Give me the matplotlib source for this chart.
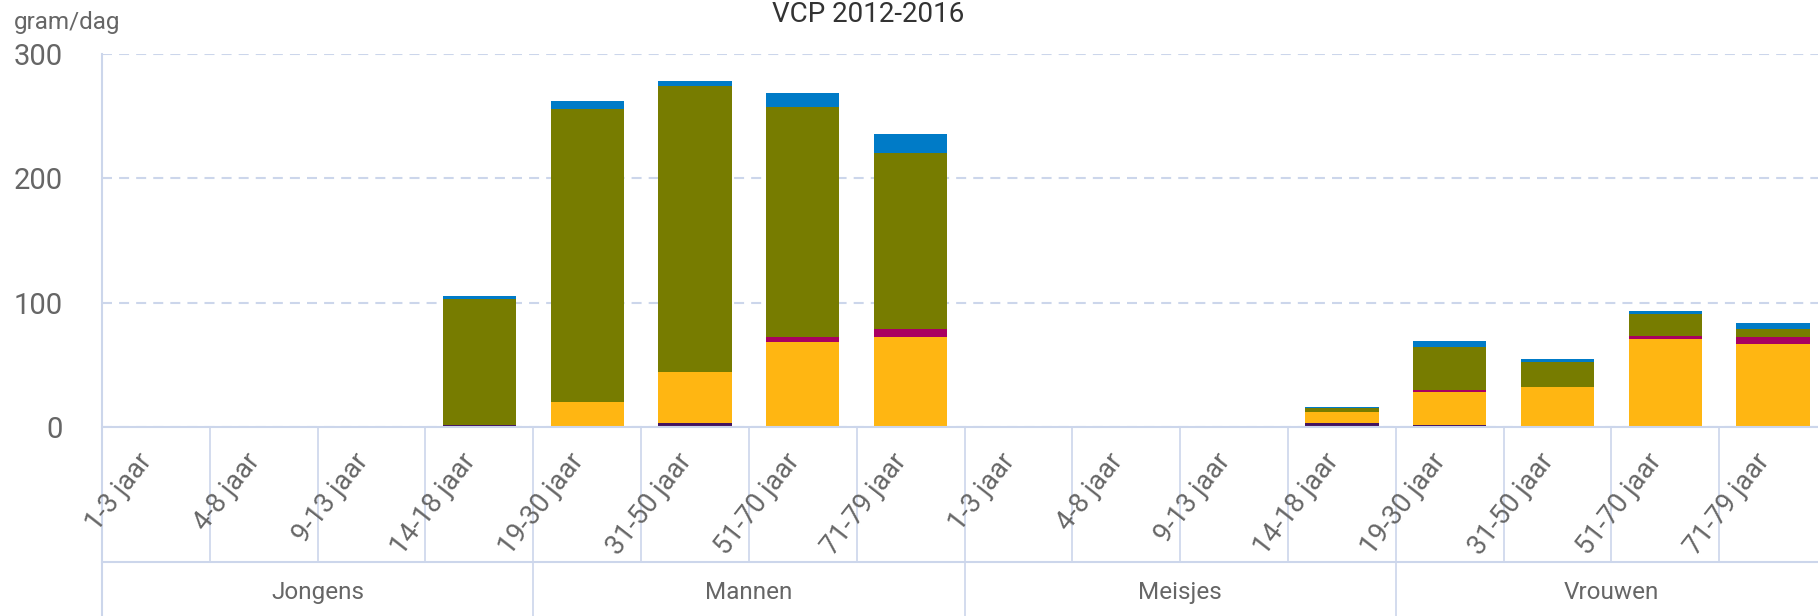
import numpy as np
import matplotlib
matplotlib.use("Agg")
import matplotlib.pyplot as plt
import matplotlib.transforms as mtransforms


# ----------------------------
# Data (gram/dag)
# ----------------------------
GROUPS = ["Jongens", "Mannen", "Meisjes", "Vrouwen"]
AGES = [
    ["1-3 jaar", "4-8 jaar", "9-13 jaar", "14-18 jaar"],
    ["19-30 jaar", "31-50 jaar", "51-70 jaar", "71-79 jaar"],
    ["1-3 jaar", "4-8 jaar", "9-13 jaar", "14-18 jaar"],
    ["19-30 jaar", "31-50 jaar", "51-70 jaar", "71-79 jaar"],
]

# stacked from bottom to top
purple = [0, 0, 0, 1.8, 0, 3.5, 0, 0, 0, 0, 0, 3.5, 1.6, 0, 0, 0]
yellow = [0, 0, 0, 0, 20, 40.5, 68.5, 72, 0, 0, 0, 8.2, 26.4, 31.8, 70.7, 66.6]
magenta = [0, 0, 0, 0, 0, 0, 4.2, 7.2, 0, 0, 0, 0, 1.9, 0, 2.1, 5.4]
olive = [0, 0, 0, 101.2, 236, 230, 185, 141.5, 0, 0, 0, 3.7, 34.5, 20.6, 17.7, 6.8]
blue = [0, 0, 0, 2.7, 6.2, 4.3, 10.6, 14.6, 0, 0, 0, 0.9, 4.4, 1.9, 2.4, 4.6]

SERIES = [purple, yellow, magenta, olive, blue]
COLORS = ["#42145f", "#ffb612", "#a90061", "#777c00", "#007bc7"]

LINE_COLOR = "#ccd6eb"
TEXT_COLOR = "#666666"

plt.rcParams["font.family"] = ["Roboto", "DejaVu Sans"]


# ----------------------------
# Figure
# ----------------------------
W, H = 1818, 616
fig = plt.figure(figsize=(W / 100, H / 100), dpi=100)
ax = fig.add_axes([102 / W, (H - 427) / H, (1827 - 102) / W, (427 - 54) / H])

n = sum(len(a) for a in AGES)
x = np.arange(n)
bottom = np.zeros(n)
for vals, col in zip(SERIES, COLORS):
    vals = np.array(vals, dtype=float)
    ax.bar(x, vals, bottom=bottom, width=0.68, color=col, linewidth=0, zorder=3)
    bottom += vals

ax.set_xlim(-0.5, n - 0.5)
ax.set_ylim(0, 300)
ax.set_yticks([0, 100, 200, 300])
ax.yaxis.grid(True, color=LINE_COLOR, linestyle=(0, (4.8, 3.4)), linewidth=1.5, zorder=0)
ax.tick_params(axis="y", length=0, pad=28, labelsize=21, labelcolor=TEXT_COLOR)
ax.set_xticks([])
for s in ax.spines.values():
    s.set_visible(False)

# ----------------------------
# Category axis (two levels)
# ----------------------------
trans = mtransforms.blended_transform_factory(ax.transData, ax.transAxes)
row_y = -(562 - 427) / (427 - 54)
bot_y = -(616 - 427) / (427 - 54)

ax.plot([-0.5, n - 0.5], [0, 0], transform=trans, color=LINE_COLOR, lw=1.5,
        clip_on=False, zorder=4)
ax.plot([-0.5, n - 0.5], [row_y, row_y], transform=trans, color=LINE_COLOR,
        lw=1.5, clip_on=False)
ax.plot([-0.5, -0.5], [1, bot_y], transform=trans, color=LINE_COLOR, lw=1.5,
        clip_on=False)

labels = [a for grp in AGES for a in grp]
for i in range(n + 1):
    ax.plot([i - 0.5, i - 0.5], [0, row_y], transform=trans, color=LINE_COLOR,
            lw=1.2, clip_on=False)

start = 0
for grp, ages in zip(GROUPS, AGES):
    end = start + len(ages)
    ax.plot([end - 0.5, end - 0.5], [row_y, bot_y], transform=trans,
            color=LINE_COLOR, lw=1.2, clip_on=False)
    ax.text((start + end - 1) / 2, -0.443, grp, transform=trans, ha="center",
            va="center", fontsize=17.5, color=TEXT_COLOR)
    start = end

for i, lab in enumerate(labels):
    ax.text(i - 0.08, -0.08, lab, transform=trans, rotation=52,
            rotation_mode="anchor", ha="right", va="center", fontsize=19.5,
            color=TEXT_COLOR)

# ----------------------------
# Titles
# ----------------------------
fig.text(868 / W, 1 - 15 / H, "VCP 2012-2016", ha="center", va="center",
         fontsize=20, color="#333333")
fig.text(14 / W, 1 - 22 / H, "gram/dag", ha="left", va="center",
         fontsize=17.5, color=TEXT_COLOR)

fig.savefig("out.png", dpi=100)
